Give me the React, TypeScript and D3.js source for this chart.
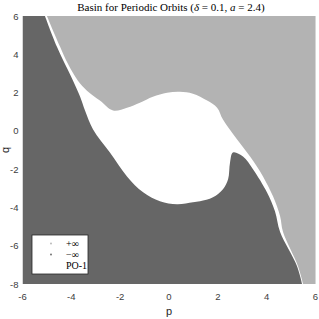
import React from "react";
import * as d3 from "d3";

// Boundary between the white (PO-1) basin and the light-gray (+∞) basin, as (p, q)
const upperP = [-5.0, -4.46, -4.14, -3.73, -3.36, -2.83, -2.29, -1.72, -1.19, -0.66, -0.08, 0.45, 0.98, 1.56, 1.97, 2.21, 2.79, 3.32, 3.85, 4.26, 4.55, 4.67, 5.28, 5.49];
const upperQ = [6.0, 4.39, 3.5, 2.62, 2.1, 1.58, 1.06, 1.21, 1.47, 1.78, 1.99, 2.04, 1.94, 1.58, 1.21, 0.59, -0.45, -1.34, -2.38, -3.42, -4.46, -5.29, -7.06, -8.0];

// Boundary between the dark-gray (−∞) basin and the white (PO-1) basin, as (p, q)
const lowerP = [-5.08, -4.59, -3.93, -3.64, -3.44, -3.11, -2.42, -1.72, -1.06, -0.37, 0.33, 0.98, 1.27, 1.8, 2.21, 2.42, 2.5, 2.62, 3.03, 3.44, 4.01, 4.34, 4.55, 5.24, 5.45];
const lowerQ = [6.0, 4.39, 2.62, 1.78, 1.06, 0.07, -1.13, -2.38, -3.21, -3.68, -3.84, -3.73, -3.68, -3.47, -3.05, -2.53, -1.65, -1.13, -1.34, -2.01, -3.21, -4.2, -5.29, -7.06, -8.0];

const xTicks = [-6, -4, -2, 0, 2, 4, 6];
const yTicks = [6, 4, 2, 0, -2, -4, -6, -8];
const legendLabels = ["+∞", "−∞", "PO-1"];
const legendColors = ["#b3b3b3", "#666666", "#ffffff"];

const W = 319, H = 319;
const L = 22.5, R = 315.5, T = 16, B = 284;

export default function App() {
  const x = d3.scaleLinear().domain([-6, 6]).range([L, R]);
  const y = d3.scaleLinear().domain([-8, 6]).range([B, T]);

  const upper: [number, number][] = upperP.map((p, i) => [p, upperQ[i]]);
  const lower: [number, number][] = lowerP.map((p, i) => [p, lowerQ[i]]);

  const line = d3
    .line<[number, number]>()
    .x((d) => x(d[0]))
    .y((d) => y(d[1]))
    .curve(d3.curveCatmullRom.alpha(0.5));

  const closeRight = ` L${x(6)},${y(-8)} L${x(6)},${y(6)} Z`;
  const whitePath = line(lower) + closeRight;
  const lightPath = line(upper) + closeRight;

  const tickFont = "'Liberation Sans', Arial, sans-serif";
  const serif = "'Liberation Serif', 'DejaVu Serif', serif";

  return (
    <svg width={W} height={H} style={{ position: "absolute", left: 0, top: 0 }} xmlns="http://www.w3.org/2000/svg">
      <rect x={0} y={0} width={W} height={H} fill="#ffffff" />
      <defs>
        <clipPath id="plot">
          <rect x={L} y={T} width={R - L} height={B - T} />
        </clipPath>
      </defs>
      <g clipPath="url(#plot)">
        <rect x={L} y={T} width={R - L} height={B - T} fill="#666666" />
        <path d={whitePath} fill="#ffffff" />
        <path d={lightPath} fill="#b3b3b3" />
      </g>

      {/* title */}
      <text x={171} y={11} textAnchor="middle" fontFamily={serif} fontSize={11} fill="#000">
        Basin for Periodic Orbits (<tspan fontStyle="italic">δ</tspan> = 0.1, <tspan fontStyle="italic">a</tspan> = 2.4)
      </text>

      {/* x ticks */}
      {xTicks.map((t) => (
        <text key={"x" + t} x={x(t)} y={300} textAnchor="middle" fontFamily={tickFont} fontSize={9.5} fill="#404040">
          {t < 0 ? "-" + Math.abs(t) : t}
        </text>
      ))}
      {/* y ticks */}
      {yTicks.map((t) => (
        <text key={"y" + t} x={L - 4} y={y(t) + 3.5} textAnchor="end" fontFamily={tickFont} fontSize={9.5} fill="#404040">
          {t < 0 ? "-" + Math.abs(t) : t}
        </text>
      ))}

      <text x={x(0)} y={315} textAnchor="middle" fontFamily={tickFont} fontSize={11} fill="#262626">p</text>
      <text transform={`translate(9,${y(-1)}) rotate(-90)`} textAnchor="middle" fontFamily={tickFont} fontSize={11} fill="#262626">q</text>

      {/* legend */}
      <rect x={32} y={235} width={56} height={39} fill="#ffffff" stroke="#262626" strokeWidth={0.8} />
      {legendLabels.map((lab, i) => (
        <g key={lab}>
          <circle cx={51} cy={243.5 + i * 11} r={0.9} fill={legendColors[i]} />
          <text x={66} y={247 + i * 11} fontFamily={serif} fontSize={10} fill="#000">{lab}</text>
        </g>
      ))}
    </svg>
  );
}
